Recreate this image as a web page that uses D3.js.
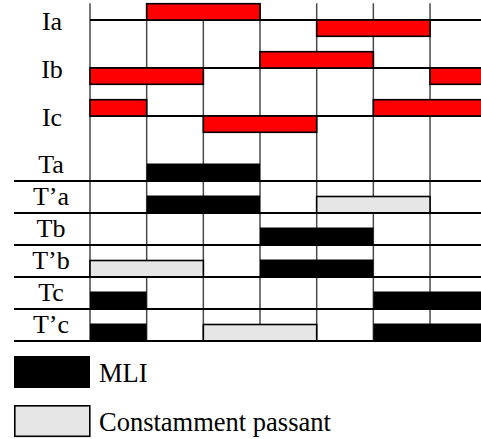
<!DOCTYPE html>
<html><head><meta charset="utf-8">
<script src="https://cdn.jsdelivr.net/npm/d3@7"></script>
<style>html,body{margin:0;padding:0;background:#fff;}svg{display:block;}</style>
</head><body>
<script>
// ---- data ----
const segments = [0,1,2,3,4,5,6,7];           // 60° sectors (grid boundaries)
const currentNames = ["Ia","Ib","Ic"];
const currentIa = [{s:1,e:3,v:1},{s:4,e:6,v:-1}];
const currentIb = [{s:0,e:2,v:-1},{s:3,e:5,v:1},{s:6,e:7,v:-1}];
const currentIc = [{s:0,e:1,v:1},{s:2,e:4,v:-1},{s:5,e:7,v:1}];
const switchNames = ["Ta","T\u2019a","Tb","T\u2019b","Tc","T\u2019c"];
const switchTa  = [{s:1,e:3,m:"MLI"}];
const switchTpa = [{s:1,e:3,m:"MLI"},{s:4,e:6,m:"ON"}];
const switchTb  = [{s:3,e:5,m:"MLI"}];
const switchTpb = [{s:0,e:2,m:"ON"},{s:3,e:5,m:"MLI"}];
const switchTc  = [{s:0,e:1,m:"MLI"},{s:5,e:7,m:"MLI"}];
const switchTpc = [{s:0,e:1,m:"MLI"},{s:2,e:4,m:"ON"},{s:5,e:7,m:"MLI"}];
const legendLabels = ["MLI","Constamment passant"];
const legendKeys = ["MLI","ON"];

const currents = [currentIa,currentIb,currentIc];
const switches = [switchTa,switchTpa,switchTb,switchTpb,switchTc,switchTpc];

// ---- layout ----
const W = 481, H = 439;
const font = "'Liberation Serif','Times New Roman',serif";
const svg = d3.select("body").append("svg").attr("width",W).attr("height",H);

const x = d3.scaleLinear().domain([0,7]).range([90, 90+7*56.67]);
const yCur = d3.scalePoint().domain(currentNames).range([20,116]);
const amp = d3.scaleLinear().domain([-1,1]).range([16.3,-16.3]);
const ySw = d3.scaleBand().domain(switchNames).range([149,341]);
const fill = {MLI:"#000", ON:"#e6e6e6"};
const barH = 17.5;

// vertical grid lines
svg.append("g").selectAll("line").data(segments.slice(0,7)).join("line")
  .attr("x1",d=>x(d)).attr("x2",d=>x(d)).attr("y1",3.3).attr("y2",341)
  .attr("stroke","#4a4a4a").attr("stroke-width",1.5);

// current baselines
svg.append("g").selectAll("line").data(currentNames).join("line")
  .attr("x1",x(0)).attr("x2",W).attr("y1",d=>yCur(d)).attr("y2",d=>yCur(d))
  .attr("stroke","#000").attr("stroke-width",1.8);

// current pulses
currents.forEach((arr,i)=>{
  const base = yCur(currentNames[i]);
  svg.append("g").selectAll("rect").data(arr).join("rect")
    .attr("x",d=>x(d.s)).attr("width",d=>x(d.e)-x(d.s))
    .attr("y",d=>d.v>0 ? base+amp(d.v) : base)
    .attr("height",d=>Math.abs(amp(d.v)))
    .attr("fill","#ff0000").attr("stroke","#000").attr("stroke-width",1.6);
});

// switch bars
switches.forEach((arr,i)=>{
  const bottom = ySw(switchNames[i]) + ySw.bandwidth();
  svg.append("g").selectAll("rect").data(arr).join("rect")
    .attr("x",d=>x(d.s)).attr("width",d=>x(d.e)-x(d.s))
    .attr("y",d=>d.m==="ON" ? bottom-barH+1 : bottom-barH)
    .attr("height",d=>d.m==="ON" ? barH-1 : barH)
    .attr("fill",d=>fill[d.m])
    .attr("stroke",d=>d.m==="ON" ? "#000" : "none").attr("stroke-width",1.6);
});

// row separators
svg.append("g").selectAll("line").data(switchNames).join("line")
  .attr("x1",14).attr("x2",W)
  .attr("y1",d=>ySw(d)+ySw.bandwidth()).attr("y2",d=>ySw(d)+ySw.bandwidth())
  .attr("stroke","#000").attr("stroke-width",1.8);

// labels
svg.append("g").selectAll("text").data(currentNames).join("text")
  .attr("x",52).attr("y",d=>yCur(d)+10).attr("text-anchor","middle")
  .attr("font-family",font).attr("font-size",26).text(d=>d);
svg.append("g").selectAll("text").data(switchNames).join("text")
  .attr("x",51).attr("y",d=>ySw(d)+ySw.bandwidth()-7.7).attr("text-anchor","middle")
  .attr("font-family",font).attr("font-size",26).text(d=>d);

// legend
const lg = svg.append("g");
legendKeys.forEach((k,i)=>{
  const y0 = 356 + i*49;
  lg.append("rect").attr("x",k==="ON"?14.8:14).attr("y",k==="ON"?y0+0.8:y0)
    .attr("width",k==="ON"?75:76).attr("height",k==="ON"?30.5:32)
    .attr("fill",fill[k]).attr("stroke",k==="ON"?"#000":"none").attr("stroke-width",1.6);
  lg.append("text").attr("x",99).attr("y",y0+26).attr("font-family",font)
    .attr("font-size",26.5).text(legendLabels[i]);
});
</script>
</body></html>
